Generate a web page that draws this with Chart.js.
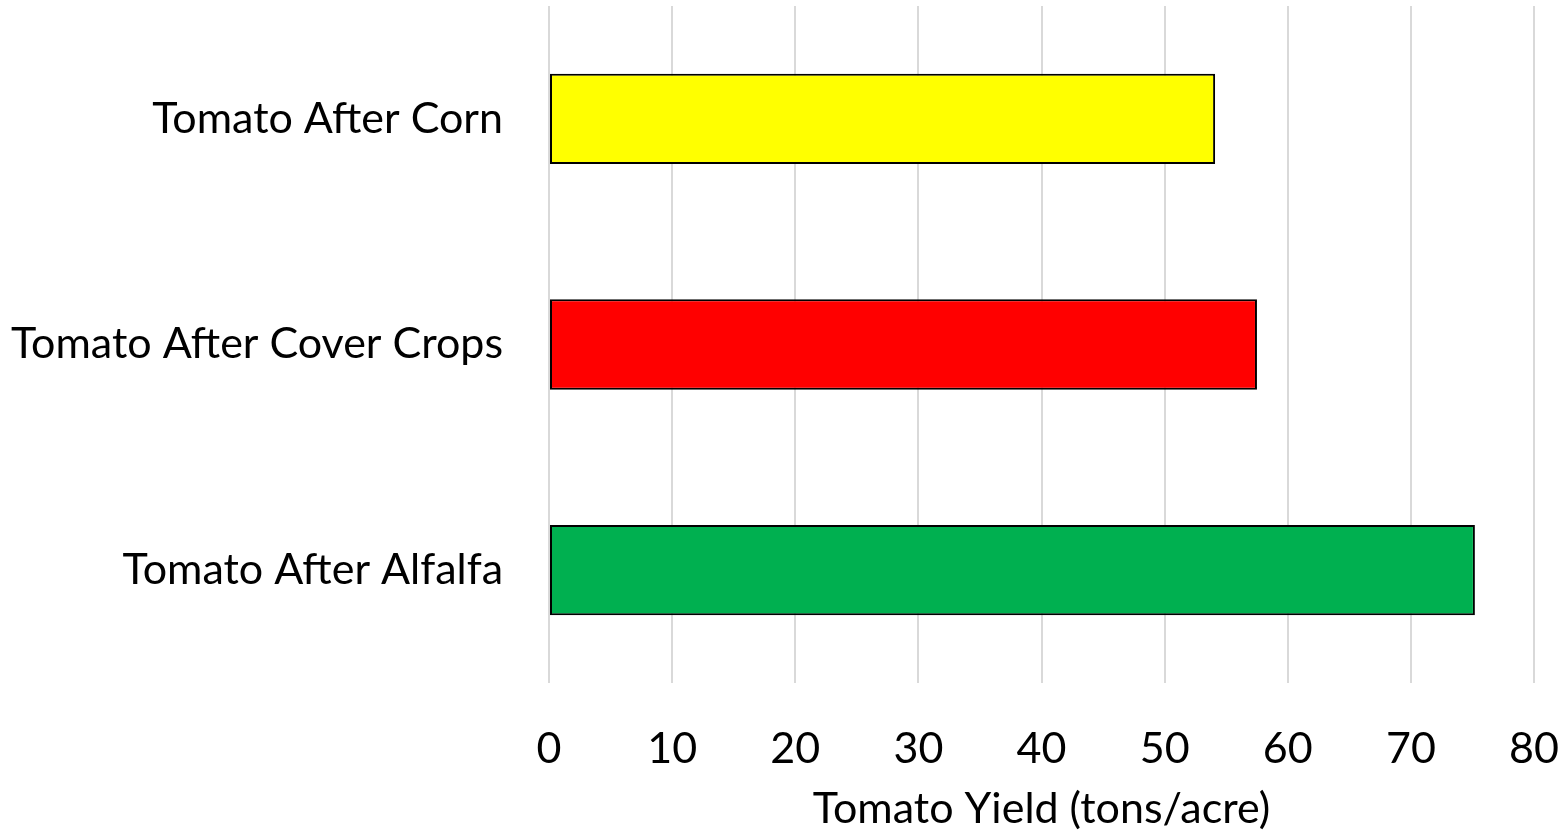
<!DOCTYPE html>
<html>
<head>
<meta charset="utf-8">
<script src="https://cdn.jsdelivr.net/npm/chart.js@4"></script>
<style>
  html, body { margin: 0; padding: 0; background: #fff; }
  #wrap { width: 1565px; height: 835px; }
</style>
</head>
<body>
<div id="wrap"><canvas id="yieldChart"></canvas></div>
<script>
// tomato yield by previous crop
const categories = ['Tomato After Corn', 'Tomato After Cover Crops', 'Tomato After Alfalfa'];
const yields = [54.1, 57.5, 75.2];
const barColors = ['#ffff00', '#ff0000', '#00b050'];
const xTicks = [0, 10, 20, 30, 40, 50, 60, 70, 80];

const noPad = s => { s.paddingTop = 0; s.paddingBottom = 0; s.paddingLeft = 0; s.paddingRight = 0; };

const ctxYield = document.getElementById('yieldChart').getContext('2d');
new Chart(ctxYield, {
  type: 'bar',
  data: {
    labels: categories,
    datasets: [{
      data: yields,
      backgroundColor: barColors,
      borderColor: '#000',
      borderWidth: 2,
      borderSkipped: false,
      categoryPercentage: 1,
      barPercentage: 0.4
    }]
  },
  options: {
    indexAxis: 'y',
    responsive: true,
    maintainAspectRatio: false,
    animation: false,
    layout: { padding: { top: 6, right: 31, left: 0, bottom: 0 } },
    plugins: { legend: { display: false }, tooltip: { enabled: false } },
    scales: {
      x: {
        min: xTicks[0],
        max: xTicks[xTicks.length - 1],
        ticks: { stepSize: 10, color: '#000', padding: 40, font: { family: 'Lato', size: 43 } },
        grid: { color: '#d9d9d9', lineWidth: 2, drawTicks: false },
        border: { display: false },
        title: { display: true, text: 'Tomato Yield (tons/acre)', color: '#000', font: { family: 'Lato', size: 43 }, padding: { top: 4, bottom: 0 } },
        afterFit: s => { s.height = 152; noPad(s); }
      },
      y: {
        ticks: { color: '#000', padding: 46, font: { family: 'Lato', size: 43 } },
        grid: { display: false, drawTicks: false },
        border: { display: false },
        afterFit: s => { s.width = 549; noPad(s); }
      }
    }
  }
});
</script>
</body>
</html>
